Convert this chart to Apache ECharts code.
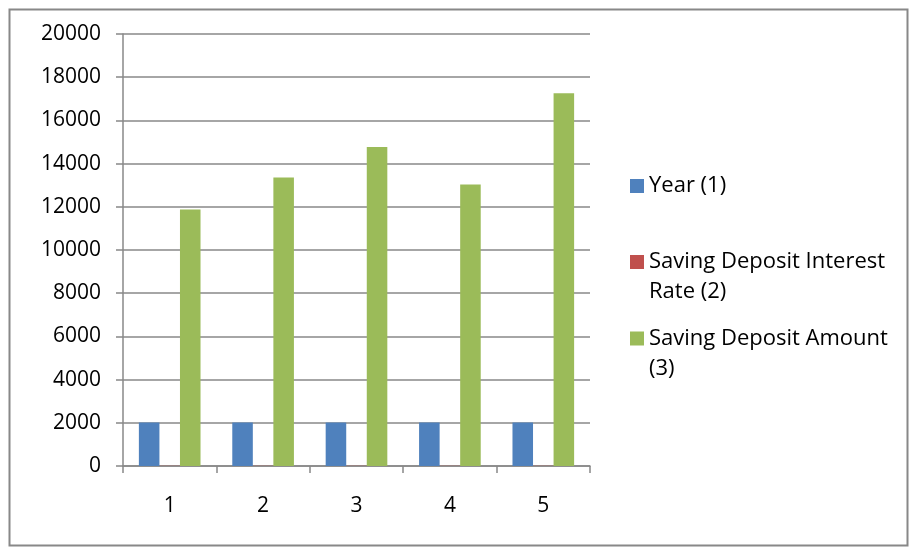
<!DOCTYPE html>
<html>
<head>
<meta charset="utf-8">
<script src="https://cdn.jsdelivr.net/npm/echarts@6/dist/echarts.min.js"></script>
<style>
html, body { margin: 0; padding: 0; background: #fff; }
#panel { width: 916px; height: 550px; }
</style>
</head>
<body>
<div id="panel"></div>
<script>
var categories = ['1', '2', '3', '4', '5'];
var yearValues = [2012, 2013, 2014, 2015, 2016];
var rateValues = [8, 8, 8, 8, 8];
var amountValues = [11880, 13360, 14770, 13030, 17260];
var seriesNames = ['Year (1)', 'Saving Deposit Interest Rate (2)', 'Saving Deposit Amount (3)'];
// legend text is wrapped like the original: first line beside the swatch, rest below
var legendFirstLines = ['Year (1)', 'Saving Deposit Interest', 'Saving Deposit Amount'];
var legendSecondLines = ['', 'Rate (2)', '(3)'];
var colors = ['#4F81BD', '#C0504D', '#9BBB59'];

var font = 'Open Sans';
var legendTops = [171, 247, 323.5];

function makeLegend(i) {
    return {
        data: [seriesNames[i]],
        left: 630,
        top: legendTops[i],
        padding: 0,
        itemWidth: 14,
        itemHeight: 14,
        itemGap: 0,
        icon: 'rect',
        selectedMode: false,
        formatter: function () { return legendFirstLines[i]; },
        textStyle: { fontFamily: font, fontSize: 22, color: '#000', lineHeight: 30 }
    };
}

var graphics = [{
    type: 'rect',
    shape: { x: 9.5, y: 9.5, width: 898, height: 536 },
    style: { fill: 'none', stroke: '#888', lineWidth: 2 }
}];
legendSecondLines.forEach(function (txt, i) {
    if (!txt) return;
    graphics.push({
        type: 'text',
        left: 649,
        top: legendTops[i] + 30,
        style: { text: txt, font: '22px "Open Sans"', fill: '#000', lineHeight: 30 }
    });
});

var options = {
    backgroundColor: '#fff',
    animation: false,
    color: colors,
    graphic: graphics,
    legend: [makeLegend(0), makeLegend(1), makeLegend(2)],
    grid: { left: 123, top: 34, right: 326, bottom: 84 },
    xAxis: {
        type: 'category',
        data: categories,
        axisLine: { lineStyle: { color: '#888', width: 1.5 } },
        axisTick: { show: true, length: 7, lineStyle: { color: '#888', width: 1.5 } },
        axisLabel: { margin: 30, fontFamily: font, fontSize: 21, color: '#000' }
    },
    yAxis: {
        type: 'value',
        min: 0,
        max: 20000,
        interval: 2000,
        axisLine: { show: true, lineStyle: { color: '#888', width: 1.5 } },
        axisTick: { show: true, length: 7, lineStyle: { color: '#888', width: 1.5 } },
        splitLine: { lineStyle: { color: '#888', width: 1.5 } },
        axisLabel: {
            margin: 22, fontFamily: font, fontSize: 21, color: '#000',
            formatter: function (v) { return String(v); }
        }
    },
    series: seriesNames.map(function (name, i) {
        return {
            name: name,
            type: 'bar',
            data: [yearValues, rateValues, amountValues][i],
            barGap: '0%',
            barCategoryGap: '34%',
            itemStyle: { color: colors[i] }
        };
    })
};

var myChart = echarts.init(document.getElementById('panel'));
myChart.setOption(options);
</script>
</body>
</html>
